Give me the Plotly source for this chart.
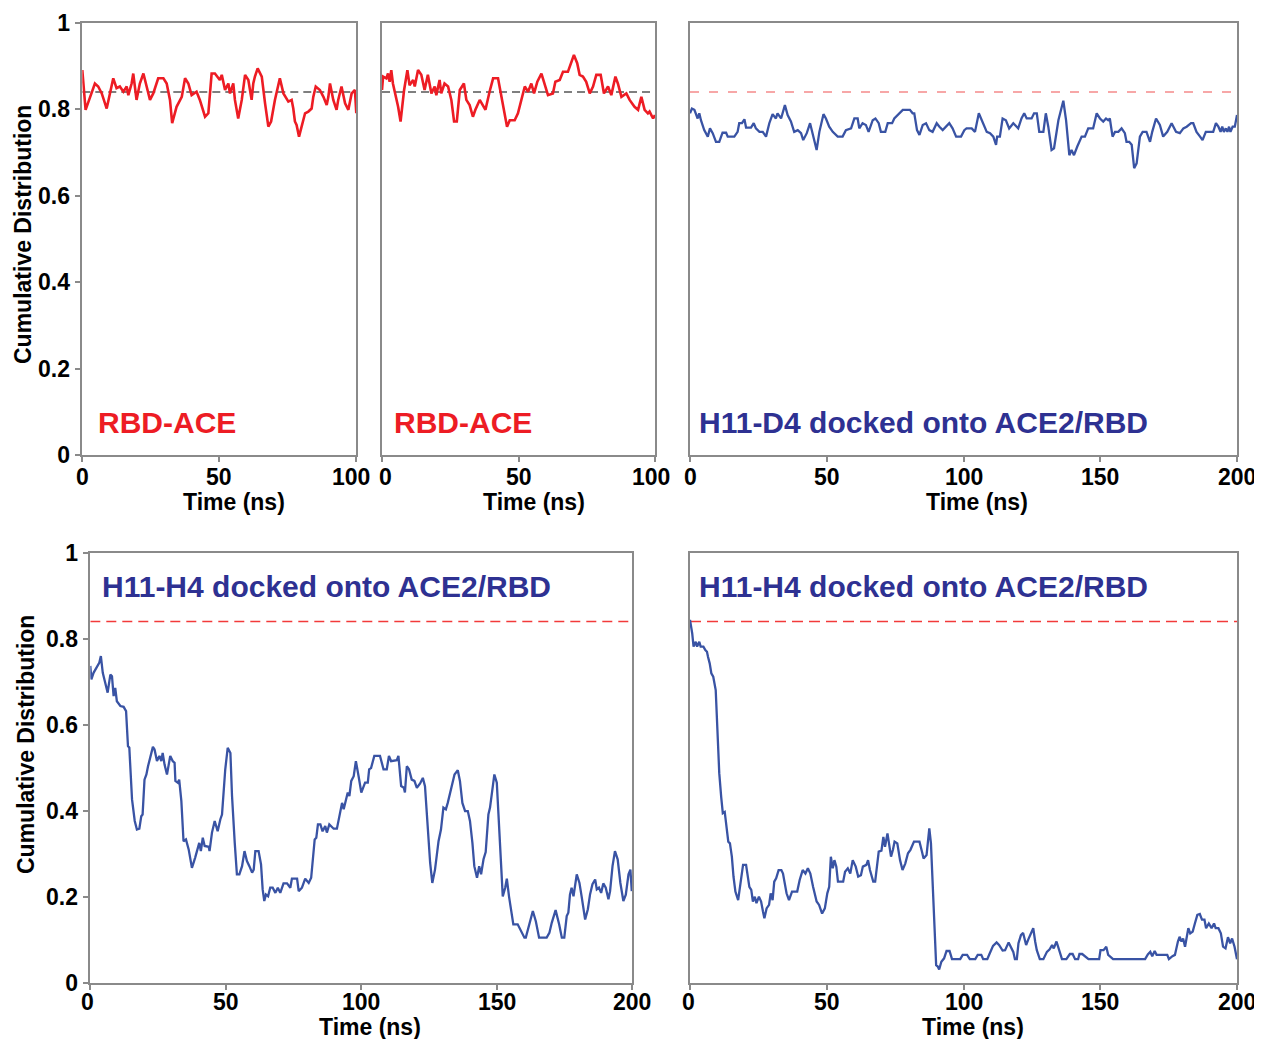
import plotly.graph_objects as go

# ---------------- data (time in ns, cumulative distribution) ----------------
REF_LEVEL = 0.84

rbd_ace_run1 = [(0, 0.891), (1.2, 0.799), (4.6, 0.860), (5.8, 0.853), (7.1, 0.837), (8.9, 0.802),
    (11.3, 0.872), (12.5, 0.849), (13.7, 0.853), (15.0, 0.841), (16.2, 0.853), (16.8, 0.833),
    (18.0, 0.860), (18.6, 0.883), (19.8, 0.822), (21.0, 0.860), (22.3, 0.883), (24.7, 0.822),
    (25.9, 0.837), (27.7, 0.872), (29.6, 0.872), (30.8, 0.860), (32.0, 0.822), (32.8, 0.768),
    (34.4, 0.806), (36.3, 0.829), (37.5, 0.872), (38.7, 0.860), (39.9, 0.833), (41.7, 0.841),
    (42.9, 0.822), (44.8, 0.783), (46.0, 0.791), (46.6, 0.837), (47.2, 0.883), (48.4, 0.883),
    (50.2, 0.868), (50.9, 0.880), (52.1, 0.845), (53.3, 0.860), (53.9, 0.837), (55.1, 0.860),
    (55.7, 0.822), (56.9, 0.779), (58.2, 0.822), (59.4, 0.880), (60.6, 0.868), (61.8, 0.822),
    (62.4, 0.860), (63.0, 0.876), (64.0, 0.895), (65.5, 0.876), (66.1, 0.837), (66.7, 0.814),
    (67.9, 0.760), (68.9, 0.772), (70.3, 0.822), (71.5, 0.853), (72.1, 0.872), (73.4, 0.837),
    (75.2, 0.818), (76.4, 0.822), (77.0, 0.802), (77.6, 0.772), (78.2, 0.764), (79.1, 0.737),
    (80.1, 0.760), (81.3, 0.791), (82.5, 0.795), (83.7, 0.802), (84.3, 0.829), (85.2, 0.853),
    (86.7, 0.845), (88.0, 0.829), (89.2, 0.810), (89.8, 0.829), (90.4, 0.860), (91.6, 0.822),
    (92.8, 0.799), (93.4, 0.822), (94.6, 0.853), (95.9, 0.814), (97.1, 0.799), (98.3, 0.837),
    (99.5, 0.845), (100.0, 0.791)]

rbd_ace_run2 = [(0, 0.845), (0.4, 0.876), (1.6, 0.872), (2.2, 0.883), (2.8, 0.864), (3.4, 0.891),
    (4.0, 0.860), (5.9, 0.806), (6.8, 0.772), (8.1, 0.845), (9.3, 0.891), (10.1, 0.856),
    (11.4, 0.868), (12.0, 0.853), (13.2, 0.891), (14.4, 0.880), (15.6, 0.845), (16.8, 0.880),
    (18.1, 0.837), (19.3, 0.853), (19.9, 0.833), (21.1, 0.868), (21.7, 0.837), (22.9, 0.860),
    (24.2, 0.853), (25.4, 0.822), (26.4, 0.772), (27.4, 0.772), (28.5, 0.845), (30.0, 0.860),
    (30.9, 0.822), (32.1, 0.810), (33.3, 0.783), (34.2, 0.799), (35.8, 0.822), (37.0, 0.810),
    (37.9, 0.799), (39.4, 0.841), (40.7, 0.872), (42.5, 0.872), (43.7, 0.829), (44.9, 0.783),
    (45.8, 0.760), (46.8, 0.775), (48.6, 0.775), (49.8, 0.791), (51.0, 0.822), (52.3, 0.853),
    (53.5, 0.841), (54.7, 0.860), (55.7, 0.837), (56.9, 0.864), (58.4, 0.883), (59.6, 0.860),
    (60.8, 0.833), (62.6, 0.837), (63.5, 0.864), (65.1, 0.868), (66.3, 0.887), (68.1, 0.887),
    (69.4, 0.910), (70.3, 0.926), (71.5, 0.907), (72.4, 0.880), (73.6, 0.876), (74.8, 0.864),
    (76.1, 0.837), (77.3, 0.853), (78.5, 0.880), (80.1, 0.880), (81.3, 0.837), (82.8, 0.853),
    (84.0, 0.833), (85.5, 0.876), (86.4, 0.860), (87.7, 0.829), (89.5, 0.837), (90.7, 0.822),
    (92.5, 0.806), (93.8, 0.799), (95.0, 0.829), (96.2, 0.799), (97.4, 0.791), (98.0, 0.795),
    (99.3, 0.779), (100.0, 0.787)]

h11_d4 = [(0, 0.791), (0.7, 0.802), (1.6, 0.799), (2.2, 0.787), (2.8, 0.779), (3.4, 0.791),
    (4.0, 0.775), (5.2, 0.752), (6.5, 0.737), (7.3, 0.756), (8.3, 0.745), (9.5, 0.725),
    (10.7, 0.725), (11.9, 0.746), (13.2, 0.746), (13.8, 0.737), (16.2, 0.737), (17.4, 0.748),
    (18.0, 0.768), (19.0, 0.768), (19.9, 0.777), (20.5, 0.758), (22.3, 0.758), (23.3, 0.768),
    (24.1, 0.756), (25.4, 0.748), (26.6, 0.748), (27.8, 0.737), (29.0, 0.768), (30.2, 0.789),
    (31.4, 0.779), (32.0, 0.791), (33.3, 0.779), (34.7, 0.810), (35.7, 0.787), (36.9, 0.772),
    (38.1, 0.748), (39.4, 0.752), (40.6, 0.745), (41.4, 0.729), (42.7, 0.745), (43.9, 0.768),
    (45.1, 0.733), (46.3, 0.706), (47.3, 0.748), (48.8, 0.789), (49.7, 0.779), (50.9, 0.760),
    (52.2, 0.748), (54.0, 0.737), (55.8, 0.737), (57.0, 0.752), (58.9, 0.756), (60.1, 0.779),
    (61.3, 0.779), (61.9, 0.756), (63.1, 0.768), (64.3, 0.764), (65.3, 0.748), (66.8, 0.775),
    (67.8, 0.779), (69.0, 0.768), (69.8, 0.748), (71.4, 0.748), (72.3, 0.768), (73.9, 0.768),
    (74.7, 0.779), (75.9, 0.787), (76.5, 0.791), (77.8, 0.799), (80.4, 0.799), (81.4, 0.791),
    (82.0, 0.791), (83.0, 0.752), (83.9, 0.741), (85.1, 0.764), (86.3, 0.768), (87.5, 0.752),
    (88.7, 0.748), (90.2, 0.768), (91.2, 0.760), (92.4, 0.752), (94.8, 0.768), (96.0, 0.756),
    (97.3, 0.737), (99.1, 0.737), (100.3, 0.752), (101.1, 0.756), (103.0, 0.756), (104.2, 0.748),
    (105.6, 0.791), (107.0, 0.768), (108.5, 0.748), (109.7, 0.745), (110.9, 0.737), (111.9, 0.718),
    (112.3, 0.737), (113.3, 0.737), (114.3, 0.779), (115.5, 0.775), (116.7, 0.756), (118.2, 0.768),
    (120.0, 0.756), (121.2, 0.779), (122.2, 0.791), (123.1, 0.779), (124.9, 0.779), (125.8, 0.791),
    (126.8, 0.791), (127.7, 0.748), (129.2, 0.748), (130.1, 0.791), (131.0, 0.760), (132.2, 0.706),
    (133.1, 0.710), (134.7, 0.775), (135.9, 0.802), (136.5, 0.820), (137.5, 0.775), (138.7, 0.694),
    (139.5, 0.706), (140.4, 0.694), (141.6, 0.714), (143.2, 0.737), (144.4, 0.737), (145.6, 0.756),
    (147.4, 0.756), (148.7, 0.791), (149.9, 0.779), (151.1, 0.772), (152.1, 0.779), (152.9, 0.775),
    (153.5, 0.779), (154.5, 0.737), (155.4, 0.748), (156.6, 0.748), (157.8, 0.756), (159.0, 0.745),
    (159.6, 0.725), (160.6, 0.725), (161.5, 0.718), (162.4, 0.664), (163.3, 0.675), (164.5, 0.737),
    (165.5, 0.748), (166.9, 0.748), (168.2, 0.725), (169.0, 0.748), (170.4, 0.779), (171.8, 0.764),
    (173.0, 0.737), (174.5, 0.748), (176.1, 0.768), (177.7, 0.748), (179.1, 0.745), (180.4, 0.756),
    (181.6, 0.760), (183.2, 0.768), (184.0, 0.768), (185.2, 0.748), (186.5, 0.737), (187.4, 0.729),
    (188.6, 0.748), (191.3, 0.748), (192.3, 0.768), (193.2, 0.760), (194.0, 0.748), (194.6, 0.760),
    (195.2, 0.748), (195.9, 0.756), (196.5, 0.748), (197.1, 0.760), (197.6, 0.748), (198.4, 0.760),
    (199.2, 0.760), (200.0, 0.787)]

h11_h4_a = [(0.0, 0.737), (0.4, 0.706), (1.2, 0.721), (2.5, 0.737), (3.3, 0.744), (3.9, 0.760),
    (4.6, 0.721), (5.5, 0.698), (6.4, 0.675), (7.4, 0.717), (8.0, 0.713), (8.6, 0.667),
    (9.2, 0.686), (9.8, 0.655), (11.1, 0.644), (12.3, 0.642), (13.2, 0.632), (13.9, 0.551),
    (14.4, 0.547), (15.4, 0.427), (16.4, 0.377), (17.2, 0.357), (18.1, 0.359), (18.8, 0.388),
    (19.3, 0.392), (20.0, 0.473), (20.7, 0.485), (21.3, 0.504), (22.1, 0.524), (23.1, 0.549),
    (23.7, 0.543), (24.6, 0.516), (25.5, 0.528), (26.2, 0.516), (26.7, 0.535), (27.4, 0.508),
    (28.3, 0.485), (28.9, 0.512), (29.5, 0.528), (30.4, 0.516), (31.1, 0.512), (31.4, 0.470),
    (32.3, 0.466), (32.8, 0.473), (33.6, 0.423), (34.4, 0.330), (35.3, 0.334), (36.3, 0.311),
    (37.5, 0.268), (38.7, 0.292), (40.2, 0.326), (40.8, 0.307), (41.5, 0.338), (42.2, 0.319),
    (43.7, 0.317), (44.0, 0.307), (44.9, 0.350), (45.9, 0.377), (47.0, 0.353), (48.0, 0.381),
    (48.6, 0.392), (49.8, 0.497), (50.7, 0.547), (51.7, 0.535), (52.3, 0.435), (53.3, 0.326),
    (54.1, 0.253), (55.0, 0.253), (56.0, 0.272), (56.9, 0.307), (57.8, 0.284), (58.7, 0.272),
    (59.7, 0.257), (60.3, 0.264), (60.9, 0.307), (62.1, 0.307), (63.0, 0.276), (63.6, 0.218),
    (64.2, 0.191), (64.8, 0.206), (65.6, 0.202), (66.4, 0.222), (67.3, 0.222), (68.3, 0.210),
    (69.2, 0.222), (70.1, 0.210), (71.3, 0.232), (72.6, 0.232), (73.8, 0.222), (74.4, 0.243),
    (76.3, 0.243), (76.9, 0.214), (78.1, 0.222), (79.3, 0.243), (80.6, 0.233), (81.5, 0.245),
    (82.8, 0.334), (83.4, 0.338), (84.0, 0.369), (84.9, 0.369), (85.7, 0.353), (86.7, 0.365),
    (87.3, 0.350), (88.2, 0.369), (89.8, 0.359), (91.0, 0.359), (91.9, 0.388), (92.9, 0.419),
    (93.5, 0.404), (95.0, 0.443), (95.6, 0.435), (96.3, 0.470), (97.2, 0.481), (98.0, 0.516),
    (99.0, 0.481), (100.0, 0.443), (101.4, 0.466), (102.4, 0.466), (102.9, 0.497), (103.6, 0.500),
    (104.8, 0.528), (106.9, 0.528), (108.2, 0.497), (109.4, 0.497), (110.2, 0.528), (111.0, 0.516),
    (113.1, 0.518), (113.7, 0.528), (114.7, 0.458), (115.7, 0.454), (116.1, 0.443), (116.8, 0.504),
    (117.6, 0.497), (118.6, 0.473), (119.6, 0.470), (120.5, 0.454), (121.7, 0.464), (122.7, 0.477),
    (123.5, 0.458), (124.5, 0.365), (125.4, 0.280), (126.2, 0.233), (127.2, 0.264), (128.5, 0.330),
    (129.4, 0.357), (130.3, 0.408), (131.2, 0.404), (131.9, 0.419), (132.8, 0.443), (133.4, 0.458),
    (134.4, 0.485), (135.6, 0.495), (136.4, 0.470), (137.3, 0.419), (138.3, 0.400), (139.3, 0.400),
    (140.1, 0.377), (141.0, 0.326), (141.7, 0.272), (142.7, 0.245), (143.5, 0.272), (144.2, 0.253),
    (145.1, 0.288), (145.9, 0.305), (146.9, 0.392), (147.5, 0.408), (149.1, 0.485), (150.0, 0.466),
    (150.8, 0.357), (151.6, 0.264), (152.2, 0.202), (153.1, 0.222), (153.7, 0.243), (154.5, 0.202),
    (155.3, 0.172), (156.1, 0.137), (157.7, 0.137), (158.9, 0.121), (160.2, 0.106), (160.7, 0.106),
    (161.9, 0.133), (163.3, 0.168), (164.4, 0.144), (165.6, 0.106), (168.4, 0.106), (169.4, 0.117),
    (170.3, 0.141), (171.7, 0.170), (173.0, 0.137), (174.0, 0.106), (174.9, 0.106), (175.8, 0.156),
    (176.4, 0.164), (177.0, 0.206), (177.6, 0.222), (178.3, 0.202), (179.5, 0.253), (180.5, 0.233),
    (181.3, 0.202), (182.6, 0.148), (183.6, 0.172), (184.4, 0.206), (185.3, 0.230), (186.3, 0.241),
    (186.9, 0.218), (187.7, 0.222), (188.5, 0.210), (189.3, 0.232), (190.2, 0.222), (191.2, 0.195),
    (191.8, 0.214), (192.7, 0.272), (193.6, 0.307), (194.6, 0.288), (195.6, 0.233), (196.7, 0.191),
    (197.6, 0.206), (198.6, 0.253), (199.3, 0.264), (199.8, 0.214)]

h11_h4_b = [(0, 0.844), (0.8, 0.813), (1.3, 0.782), (2.1, 0.793), (2.6, 0.782), (3.4, 0.793),
    (3.9, 0.782), (4.9, 0.782), (5.6, 0.774), (6.2, 0.770), (6.6, 0.758), (7.2, 0.743),
    (7.8, 0.720), (8.5, 0.712), (9.4, 0.681), (10.1, 0.580), (10.7, 0.488), (11.4, 0.433),
    (12.0, 0.395), (12.7, 0.398), (13.3, 0.364), (14.0, 0.329), (14.6, 0.325), (15.3, 0.294),
    (15.9, 0.248), (16.6, 0.213), (17.6, 0.193), (18.5, 0.232), (19.4, 0.275), (20.5, 0.275),
    (21.7, 0.224), (22.4, 0.217), (23.0, 0.190), (23.7, 0.201), (24.3, 0.186), (25.2, 0.201),
    (26.0, 0.190), (26.7, 0.166), (27.2, 0.151), (28.0, 0.174), (28.9, 0.182), (29.5, 0.209),
    (30.2, 0.193), (30.8, 0.236), (31.5, 0.244), (32.4, 0.263), (33.4, 0.263), (34.0, 0.255),
    (34.7, 0.224), (35.3, 0.209), (36.2, 0.193), (37.3, 0.213), (39.2, 0.213), (40.1, 0.240),
    (41.2, 0.263), (42.2, 0.255), (43.1, 0.267), (44.0, 0.255), (45.0, 0.224), (46.3, 0.190),
    (47.2, 0.182), (48.3, 0.162), (49.3, 0.174), (50.2, 0.209), (50.9, 0.224), (51.5, 0.294),
    (52.2, 0.267), (52.8, 0.286), (53.5, 0.271), (54.1, 0.236), (56.0, 0.236), (56.7, 0.259),
    (57.7, 0.267), (58.6, 0.255), (59.5, 0.286), (60.6, 0.271), (61.5, 0.248), (62.5, 0.251),
    (63.2, 0.271), (64.5, 0.275), (65.1, 0.286), (65.8, 0.263), (67.0, 0.236), (67.7, 0.236),
    (69.0, 0.306), (70.0, 0.308), (70.7, 0.340), (71.3, 0.317), (72.2, 0.348), (72.9, 0.321),
    (73.5, 0.294), (74.2, 0.310), (74.8, 0.329), (75.8, 0.325), (76.8, 0.286), (77.7, 0.263),
    (78.7, 0.278), (79.7, 0.302), (80.6, 0.310), (81.9, 0.329), (83.9, 0.329), (84.8, 0.306),
    (85.4, 0.290), (86.5, 0.298), (87.5, 0.360), (88.1, 0.325), (88.8, 0.209), (89.3, 0.116),
    (90.0, 0.042), (90.6, 0.039), (91.1, 0.032), (91.9, 0.050), (92.9, 0.058), (93.8, 0.075),
    (94.9, 0.075), (95.8, 0.056), (98.8, 0.056), (99.7, 0.066), (101.3, 0.066), (102.3, 0.056),
    (104.3, 0.056), (105.2, 0.066), (106.5, 0.066), (107.2, 0.056), (108.7, 0.056), (109.5, 0.068),
    (110.8, 0.087), (112.1, 0.095), (113.0, 0.089), (114.3, 0.076), (115.2, 0.077), (116.5, 0.095),
    (117.3, 0.085), (118.2, 0.073), (118.8, 0.056), (119.5, 0.056), (120.1, 0.093), (121.0, 0.112),
    (121.8, 0.117), (122.9, 0.089), (123.7, 0.102), (124.6, 0.116), (125.5, 0.128), (126.2, 0.097),
    (126.8, 0.077), (127.9, 0.056), (129.2, 0.056), (130.5, 0.073), (131.5, 0.079), (132.4, 0.089),
    (133.0, 0.081), (134.0, 0.097), (135.0, 0.077), (136.0, 0.056), (137.6, 0.056), (138.9, 0.068),
    (139.9, 0.068), (140.8, 0.056), (141.9, 0.056), (142.4, 0.068), (143.4, 0.068), (145.7, 0.056),
    (149.6, 0.056), (150.1, 0.077), (151.2, 0.077), (152.2, 0.085), (152.9, 0.066), (154.7, 0.056),
    (166.4, 0.056), (167.4, 0.067), (168.3, 0.073), (169.0, 0.063), (169.9, 0.075), (170.6, 0.066),
    (174.5, 0.066), (175.1, 0.056), (176.4, 0.063), (177.3, 0.066), (178.4, 0.097), (179.0, 0.108),
    (179.7, 0.097), (180.3, 0.104), (181.0, 0.085), (181.6, 0.104), (182.2, 0.128), (182.9, 0.116),
    (183.8, 0.120), (184.6, 0.139), (185.5, 0.159), (186.4, 0.161), (187.2, 0.148), (188.1, 0.148),
    (188.7, 0.128), (189.7, 0.139), (190.7, 0.128), (191.6, 0.139), (192.2, 0.128), (193.2, 0.128),
    (194.1, 0.116), (194.9, 0.085), (195.8, 0.081), (196.7, 0.107), (197.5, 0.093), (198.2, 0.104),
    (199.1, 0.085), (200.0, 0.056)]

panel_labels = ["RBD-ACE", "RBD-ACE", "H11-D4 docked onto ACE2/RBD",
                "H11-H4 docked onto ACE2/RBD", "H11-H4 docked onto ACE2/RBD"]
x_title = "Time (ns)"
y_title = "Cumulative Distribution"
y_tick_vals = [0, 0.2, 0.4, 0.6, 0.8, 1]
y_tick_text = ["0", "0.2", "0.4", "0.6", "0.8", "1"]
x_ticks_100 = [0, 50, 100]
x_ticks_200 = [0, 50, 100, 150, 200]

# ---------------- styling ----------------
# The page body has an 8px default margin; positions below are given in
# window pixels and converted to the figure's paper coordinates.
OFF = 8
W, H = 1262 - OFF, 1039 - OFF
RED = "#ED1C24"
BLUE = "#3953A4"
NAVY = "#2E3192"
AX = "#8a8a8a"
FONT = "Liberation Sans"


def fx(px):
    return (px - OFF) / W


def fy(py):
    return 1 - (py - OFF) / H


panels = [
    # series, colour, x max, xticks, x-domain(px), y-domain(px), show y ticks, ref colour, ref dash,
    # tick-label y(px), label shifts for first/last x tick
    (rbd_ace_run1, RED, 100, x_ticks_100, (82.3, 356.3), (23, 455), True, "#555555", "8px,5px", 477, (0, -5)),
    (rbd_ace_run2, RED, 100, x_ticks_100, (382, 655), (23, 455), False, "#555555", "8px,5px", 477, (3, -4)),
    (h11_d4, BLUE, 200, x_ticks_200, (690, 1237), (23, 455), False, "#F58A8A", "9px,10px", 477, (0, 0)),
    (h11_h4_a, BLUE, 200, x_ticks_200, (90.3, 632.3), (552.7, 983.3), True, "#F23A3A", "10px,6px", 1002, (-3, 0)),
    (h11_h4_b, BLUE, 200, x_ticks_200, (690, 1237), (552.7, 983.3), False, "#F23A3A", "11px,6px", 1002, (-2, 0)),
]

fig = go.Figure()
layout = dict(width=W, height=H, margin=dict(l=0, r=0, t=0, b=0, pad=0, autoexpand=False),
              paper_bgcolor="white", plot_bgcolor="white", showlegend=False)

tickfont = dict(family=FONT, size=23, color="black", weight="bold")
annotations = []

for i, (series, col, xmax, xt, xd, yd, showy, refcol, refdash, tly, shifts) in enumerate(panels):
    n = "" if i == 0 else str(i + 1)
    t = [p[0] for p in series]
    v = [p[1] for p in series]
    fig.add_trace(go.Scatter(x=[0, xmax], y=[REF_LEVEL, REF_LEVEL], mode="lines",
                             line=dict(color=refcol, width=1.5, dash=refdash),
                             xaxis="x" + n, yaxis="y" + n, hoverinfo="skip"))
    fig.add_trace(go.Scatter(x=t, y=v, mode="lines",
                             line=dict(color=col, width=2.6 if col == RED else 2.3),
                             xaxis="x" + n, yaxis="y" + n))
    layout["xaxis" + n] = dict(domain=[fx(xd[0]), fx(xd[1])], range=[0, xmax], anchor="y" + n,
                               tickvals=xt, showticklabels=False,
                               ticks="outside", ticklen=5, tickwidth=1.5,
                               tickcolor=AX, showline=True, linecolor=AX, linewidth=1.5,
                               mirror=True, showgrid=False, zeroline=False, automargin=False)
    layout["yaxis" + n] = dict(domain=[fy(yd[1]), fy(yd[0])], range=[0, 1], anchor="x" + n,
                               tickvals=y_tick_vals, ticktext=y_tick_text,
                               showticklabels=showy, ticks="outside" if showy else "",
                               ticklen=6, tickwidth=1.5, tickcolor=AX,
                               showline=True, linecolor=AX, linewidth=1.5, mirror=True,
                               showgrid=False, zeroline=False, tickfont=tickfont,
                               automargin=False)
    # x tick labels placed on the axis' own data scale
    for k, tv in enumerate(xt):
        xs = shifts[0] if k == 0 else (shifts[1] if k == len(xt) - 1 else 0)
        annotations.append(dict(text=str(tv), x=tv, xref="x" + n, y=fy(tly), yref="paper",
                                xanchor="center", yanchor="middle", showarrow=False,
                                xshift=xs, font=tickfont))

label_pos = [(96, 422, RED), (392, 422, RED), (697, 422, NAVY), (100, 586, NAVY), (697, 586, NAVY)]
for text, (x, y, c) in zip(panel_labels, label_pos):
    annotations.append(dict(text=text, x=fx(x), y=fy(y), xref="paper", yref="paper",
                            xanchor="left", yanchor="middle", showarrow=False,
                            font=dict(family=FONT, size=30, color=c, weight="bold")))
for (x, y) in [(234, 502), (534, 502), (977, 502), (370, 1027), (973, 1027)]:
    annotations.append(dict(text=x_title, x=fx(x), y=fy(y), xref="paper", yref="paper",
                            xanchor="center", yanchor="middle", showarrow=False,
                            font=dict(family=FONT, size=23, color="black", weight="bold")))
for (x, y) in [(23, 235), (26, 745)]:
    annotations.append(dict(text=y_title, x=fx(x), y=fy(y), xref="paper", yref="paper",
                            xanchor="center", yanchor="middle", showarrow=False, textangle=-90,
                            font=dict(family=FONT, size=23, color="black", weight="bold")))
layout["annotations"] = annotations

fig.update_layout(**layout)
fig.write_html("out.html")
